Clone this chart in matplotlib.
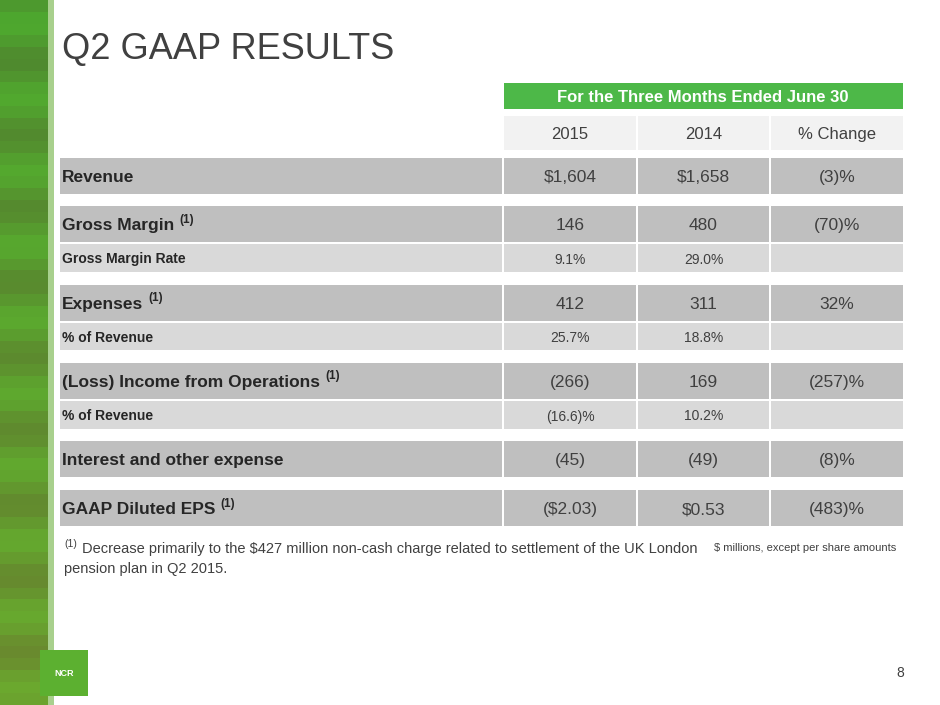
import matplotlib
matplotlib.use("Agg")
import matplotlib.pyplot as plt
from matplotlib.patches import Rectangle
import numpy as np

plt.rcParams['font.family'] = ['Liberation Sans', 'DejaVu Sans']

labels = ["Revenue", "Gross Margin", "Gross Margin Rate", "Expenses", "% of Revenue",
          "(Loss) Income from Operations", "% of Revenue", "Interest and other expense",
          "GAAP Diluted EPS"]
footnote = [False, True, False, True, False, True, False, False, True]
major = [True, True, False, True, False, True, False, True, True]
v2015 = ["$1,604", "146", "9.1%", "412", "25.7%", "(266)", "(16.6)%", "(45)", "($2.03)"]
v2014 = ["$1,658", "480", "29.0%", "311", "18.8%", "169", "10.2%", "(49)", "$0.53"]
vchg = ["(3)%", "(70)%", "", "32%", "", "(257)%", "", "(8)%", "(483)%"]
years = ["2015", "2014", "% Change"]

# row extents in pixels (top, bottom)
rows = [(158, 194), (206, 242), (244, 272), (285, 321), (323, 350),
        (363, 399), (401, 429), (441, 477), (490, 526)]
cols = [(60, 502), (504, 636), (638, 769), (771, 903)]

fig = plt.figure(figsize=(9.4, 7.05), dpi=100)
ax = fig.add_axes([0, 0, 1, 1])
ax.set_xlim(0, 940)
ax.set_ylim(705, 0)
ax.axis("off")
renderer = fig.canvas.get_renderer()

# green stripe on the left
for i in range(60):
    t = i / 59
    ax.add_patch(Rectangle((0, i * 705 / 60), 48, 705 / 60 + 1,
                           color=(0.30 + 0.12 * t, 0.60 + 0.06 * np.sin(i), 0.18), lw=0))
ax.add_patch(Rectangle((48, 0), 6, 705, color="#a8d08d", lw=0))

ax.text(62, 45, "Q2 GAAP RESULTS", fontsize=26, color="#404040", va="center_baseline")

ax.add_patch(Rectangle((504, 83), 399, 26, color="#4db848", lw=0))
ax.text(703, 96, "For the Three Months Ended June 30", fontsize=12, fontweight="bold",
        color="white", ha="center", va="center_baseline")
for (x0, x1), y in zip(cols[1:], years):
    ax.add_patch(Rectangle((x0, 116), x1 - x0, 34, color="#f2f2f2", lw=0))
    ax.text((x0 + x1) / 2, 133, y, fontsize=12, color="#404040", ha="center",
            va="center_baseline")

for i, (t, b) in enumerate(rows):
    fc = "#bfbfbf" if major[i] else "#d9d9d9"
    for x0, x1 in cols:
        ax.add_patch(Rectangle((x0, t), x1 - x0, b - t, color=fc, lw=0))
    yc = (t + b) / 2
    fs = 12.5 if major[i] else 10
    txt = ax.text(62, yc, labels[i], fontsize=fs, fontweight="bold", color="#262626",
                  va="center_baseline")
    if footnote[i]:
        bb = txt.get_window_extent(renderer)
        xe = ax.transData.inverted().transform((bb.x1, bb.y0))[0]
        ax.text(xe + 5, yc - 6, "(1)", fontsize=8.5, fontweight="bold", color="#262626",
                va="center_baseline")
    for (x0, x1), v in zip(cols[1:], [v2015[i], v2014[i], vchg[i]]):
        ax.text((x0 + x1) / 2, yc, v, fontsize=fs, color="#404040", ha="center",
                va="center_baseline")

ax.text(64, 543, "(1)", fontsize=7.5, color="#404040", va="center_baseline")
ax.text(82, 547, "Decrease primarily to the $427 million non-cash charge related to settlement of the UK London",
        fontsize=10.5, color="#404040", va="center_baseline")
ax.text(64, 567, "pension plan in Q2 2015.", fontsize=10.5, color="#404040", va="center_baseline")
ax.text(896, 547, "$ millions, except per share amounts", fontsize=8, color="#404040",
        ha="right", va="center_baseline")

ax.add_patch(Rectangle((40, 650), 48, 46, color="#5cb030", lw=0))
ax.text(64, 673, "NCR", fontsize=6.5, color="white", ha="center", va="center", fontweight="bold")
ax.text(904, 673, "8", fontsize=10, color="#404040", ha="right", va="center")

fig.savefig("out.png", dpi=100)
